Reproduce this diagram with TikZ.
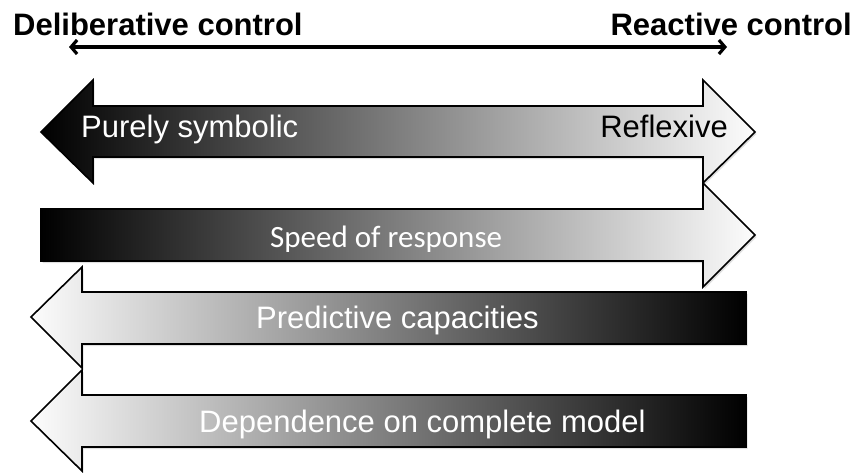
\documentclass[tikz,border=0pt]{standalone}
\usepackage{fontspec}
\setmainfont{Liberation Sans}
\newfontfamily\calibrifont{Carlito}
\usetikzlibrary{arrows.meta,shadows}
\tikzset{>={Straight Barb[length=6pt,width=14pt]}}

\begin{document}
\begin{tikzpicture}[x=1pt,y=-1pt,
    band/.style={draw=black, line width=1.6pt, line join=miter,
        drop shadow={opacity=0.25, shadow xshift=1.5pt, shadow yshift=-2pt}},
    bandlabel/.style={font=\fontsize{31}{37}\selectfont, inner sep=0pt},
    ctrllabel/.style={font=\bfseries\fontsize{31}{37}\selectfont, inner sep=0pt}]
    \useasboundingbox (0,0) rectangle (855,472);

    % control axis
    \node[ctrllabel, anchor=base west] (delib) at (13,35) {Deliberative control};
    \node[ctrllabel, anchor=base east] (react) at (852,35) {Reactive control};
    \coordinate (axisl) at (69,47);
    \coordinate (axisr) at (727,47);
    \draw[<->, line width=3.2pt] (axisl) -- (axisr);

    % purely symbolic -- reflexive
    \path[band, left color=black, right color=gray!2]
        (41,132) -- (93,80) -- (93,106) -- (703,106) -- (703,80) -- (755,132)
        -- (703,183) -- (703,157) -- (93,157) -- (93,183) -- cycle;
    \node[bandlabel, white, anchor=base west] (symb) at (81,137) {Purely symbolic};
    \node[bandlabel, black, anchor=base east] (refl) at (728,137) {Reflexive};

    % speed of response
    \path[band, left color=black, right color=gray!2]
        (41,209) -- (703,209) -- (703,183) -- (755,235) -- (703,287)
        -- (703,261) -- (41,261) -- cycle;
    \node[bandlabel, font=\calibrifont\fontsize{31}{37}\selectfont, white, anchor=base west] (speed) at (270,247) {Speed of response};

    % predictive capacities
    \path[band, left color=gray!2, right color=black]
        (31,317) -- (82,267) -- (82,292) -- (746,292) -- (746,344)
        -- (82,344) -- (82,368) -- cycle;
    \node[bandlabel, white, anchor=base west] (pred) at (256,328) {Predictive capacities};

    % dependence on complete model
    \path[band, left color=gray!2, right color=black]
        (31,421) -- (82,370) -- (82,395) -- (746,395) -- (746,447)
        -- (82,447) -- (82,471) -- cycle;
    \node[bandlabel, white, anchor=base west] (depend) at (199,432) {Dependence on complete model};
\end{tikzpicture}
\end{document}
